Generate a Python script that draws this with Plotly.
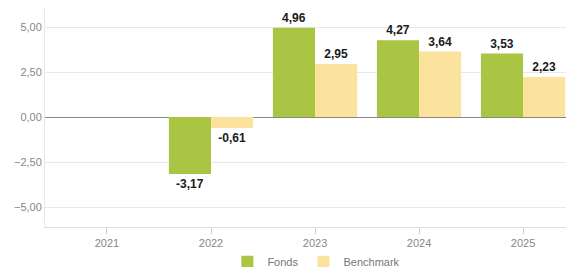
import plotly.graph_objects as go

years = ["2021", "2022", "2023", "2024", "2025"]
fonds = [None, -3.17, 4.96, 4.27, 3.53]
benchmark = [None, -0.61, 2.95, 3.64, 2.23]
y_ticks = [-5, -2.5, 0, 2.5, 5]

label_font = dict(family="Liberation Sans, Arial", size=12, color="#1a1a1a", weight="bold")

fig = go.Figure()
fig.add_trace(go.Bar(
    x=years, y=fonds, name="Fonds", marker_color="#a9c543",
    marker_line_width=0,
    texttemplate="%{y:.2f}", textposition="outside",
    textfont=label_font, cliponaxis=False,
))
fig.add_trace(go.Bar(
    x=years, y=benchmark, name="Benchmark", marker_color="#fbe39e",
    marker_line_width=0,
    texttemplate="%{y:.2f}", textposition="outside",
    textfont=label_font, cliponaxis=False,
))

# page body has an 8px default margin: size the figure to fit the window
fig.update_layout(
    width=566, height=259,
    margin=dict(l=37, r=0, t=0, b=40, autoexpand=False),
    paper_bgcolor="white", plot_bgcolor="white",
    separators=",.",
    barmode="group", bargap=0.19, bargroupgap=0,
    font=dict(family="Liberation Sans, Arial", size=11, color="#888888"),
    showlegend=True,
    legend=dict(orientation="h", x=0.513, xanchor="center",
                y=0.02, yanchor="middle", yref="container",
                bgcolor="rgba(0,0,0,0)",
                font=dict(size=11, color="#777777"),
                traceorder="normal"),
)
fig.update_xaxes(
    type="category", range=[-0.596, 4.49], automargin=False,
    showline=True, linecolor="#e0e0e0", linewidth=1,
    ticks="outside", ticklen=6, tickcolor="#d0d0d0",
    showgrid=False, tickfont=dict(size=11, color="#888888"),
)
fig.update_yaxes(
    range=[-6.11, 6.06], tickvals=y_ticks, tickformat=".2f", automargin=False,
    showgrid=True, gridcolor="#e8e8e8", gridwidth=1,
    zeroline=True, zerolinecolor="#888888", zerolinewidth=1,
    showline=True, linecolor="#e8e8e8", linewidth=1,
    ticks="", tickfont=dict(size=11, color="#888888"),
)
fig.write_html("out.html")
